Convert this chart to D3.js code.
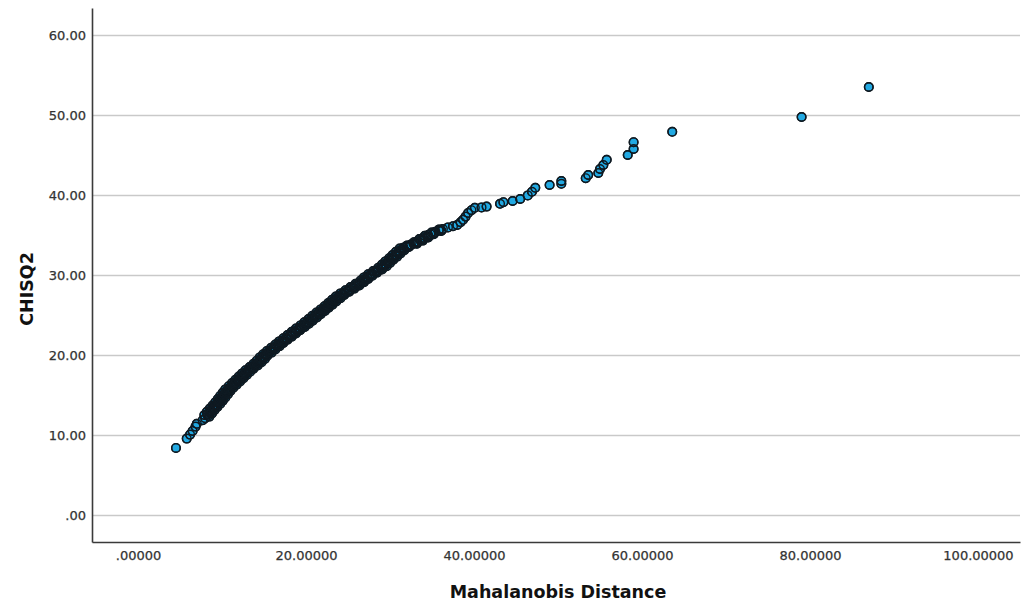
<!DOCTYPE html>
<html>
<head>
<meta charset="utf-8">
<script src="https://cdn.jsdelivr.net/npm/d3@7"></script>
<style>
    body { margin: 0; background: #fff; }
    #chart { width: 1023px; height: 610px; }
    .tick text { font-family: "DejaVu Sans", sans-serif; font-size: 13px; fill: #333; stroke: #333; stroke-width: 0.25px; }
    .axisTitle { font-family: "DejaVu Sans", sans-serif; font-weight: bold; fill: #111; }
</style>
</head>
<body>
<div id="chart"></div>
<script>

// ticks + labels as SPSS prints them
let yTicks = [0, 10, 20, 30, 40, 50, 60];
let yTickLabels = [".00", "10.00", "20.00", "30.00", "40.00", "50.00", "60.00"];
let xTicks = [0, 20, 40, 60, 80, 100];
let xTickLabels = [".00000", "20.00000", "40.00000", "60.00000", "80.00000", "100.00000"];

// points (Mahalanobis distance vs chi-square quantile)
let mahalanobis = [
    4.52, 5.8, 6.2, 6.5, 6.85, 7.0, 7.7, 8.0, 8.3, 8.5,
    8.7, 8.9, 9.1, 9.3, 9.5, 9.7, 9.85, 10.0, 10.15, 10.3,
    10.45, 10.6, 10.75, 10.9, 11.05, 11.2, 11.35, 11.5, 11.65, 11.8,
    11.95, 12.1, 12.25, 12.4, 12.55, 12.7, 12.85, 13.0, 13.15, 13.3,
    13.5, 13.7, 13.9, 14.1, 14.3, 14.45, 14.6, 14.75, 14.9, 15.1,
    15.3, 15.5, 15.7, 15.9, 16.1, 16.3, 16.5, 16.7, 16.9, 17.15,
    17.4, 17.65, 17.9, 18.15, 18.4, 18.65, 18.9, 19.1, 19.3, 19.55,
    19.8, 20.05, 20.3, 20.5, 20.75, 21.0, 21.25, 21.5, 21.7, 21.95,
    22.2, 22.4, 22.65, 22.85, 23.1, 23.3, 23.55, 23.8, 24.0, 24.3,
    24.6, 24.9, 25.2, 25.5, 25.8, 26.1, 26.4, 26.7, 27.0, 27.3,
    27.6, 27.9, 28.2, 28.5, 28.9, 29.2, 29.45, 29.7, 29.95, 30.2,
    30.4, 30.65, 30.9, 31.15, 31.4, 31.6, 32.0, 32.4, 32.8, 33.2,
    33.6, 34.0, 34.4, 34.8, 35.3, 35.8, 36.3, 36.9, 37.5, 38.0,
    38.4, 38.7, 39.0, 39.3, 39.7, 40.1, 40.9, 41.5, 43.1, 43.5,
    44.6, 45.5, 46.4, 46.9, 47.3, 49.0, 50.4, 50.4, 53.3, 53.6,
    54.8, 55.0, 55.4, 55.8, 58.3, 59.0, 59.0, 63.6, 79.0, 87.0,
    // the thick dark band, second row of cases either side of the first
    8.5, 7.9, 8.8, 8.2, 9.1, 8.55, 9.45, 8.9, 9.8, 9.2,
    10.1, 9.5, 10.4, 9.8, 10.7, 10.1, 11.0, 10.4, 11.35, 10.8,
    11.75, 11.2, 12.15, 11.6, 12.55, 12.0, 12.95, 12.4, 13.35, 12.8,
    13.75, 13.3, 14.25, 13.75, 14.7, 14.15, 15.1, 14.5, 15.4, 14.9,
    15.9, 15.35, 16.35, 15.85, 16.85, 16.35, 17.3, 16.8, 17.8, 17.3,
    18.3, 17.8, 18.8, 18.3, 19.3, 18.8, 19.85, 19.35, 20.35, 19.8,
    20.8, 20.3, 21.3, 20.75, 21.75, 21.25, 22.25, 21.75, 22.7, 22.2,
    23.15, 22.65, 23.6, 23.1, 24.1, 23.55, 24.55, 24.1, 25.15, 24.7,
    25.75, 25.3, 26.35, 25.9, 26.9, 26.5, 27.4, 26.9, 27.9, 27.4,
    28.45, 28.0, 29.05, 28.6, 29.6, 29.05, 30.0, 29.45, 30.4, 29.9,
    30.85, 30.3, 31.25, 30.7, 31.7, 31.15, 32.25, 32.05, 33.2, 32.85,
    33.9, 33.5, 34.55, 34.15, 35.2, 34.95, 36.1, 35.85,
    // third row, down the middle of the band
    8.33, 8.22, 8.63, 8.53, 8.95, 8.88, 9.3, 9.23, 9.63, 9.53,
    9.93, 9.83, 10.23, 10.13, 10.53, 10.43, 10.83, 10.75, 11.2, 11.15,
    11.6, 11.55, 12.0, 11.95, 12.4, 12.35, 12.8, 12.75, 13.2, 13.15,
    13.65, 13.65, 14.13, 14.1, 14.55, 14.5, 14.93, 14.83, 15.28, 15.28,
    15.75, 15.73, 16.23, 16.23, 16.73, 16.7, 17.18, 17.18, 17.68, 17.68,
    18.18, 18.18, 18.68, 18.68, 19.18, 19.2, 19.73, 19.73, 20.2, 20.18,
    20.68, 20.68, 21.15, 21.13, 21.63, 21.63, 22.13, 22.1, 22.58, 22.55,
    23.03, 23.0, 23.48, 23.48, 23.95, 23.93, 24.45, 24.5, 25.05, 25.1,
    25.65, 25.7, 26.25, 26.28, 26.83, 26.83, 27.28, 27.28, 27.78, 27.8,
    28.35, 28.4, 28.95, 28.98, 29.45, 29.4, 29.85, 29.8, 30.28, 30.25,
    30.7, 30.65, 31.1, 31.08, 31.55, 31.58, 32.28, 32.5, 33.15, 33.25,
    33.83, 33.9, 34.48, 34.55, 35.2, 35.4, 36.1
];
let chisq2 = [
    8.38, 9.55, 10.05, 10.5, 11.05, 11.4, 11.85, 12.1, 12.6, 12.85,
    13.1, 13.35, 13.55, 13.8, 14.05, 14.3, 14.5, 14.7, 14.9, 15.1,
    15.3, 15.5, 15.7, 15.85, 16.0, 16.15, 16.3, 16.45, 16.6, 16.75,
    16.9, 17.05, 17.2, 17.35, 17.5, 17.65, 17.8, 17.95, 18.1, 18.25,
    18.4, 18.55, 18.75, 18.9, 19.1, 19.25, 19.4, 19.6, 19.8, 20.0,
    20.15, 20.3, 20.5, 20.65, 20.8, 21.0, 21.15, 21.3, 21.5, 21.7,
    21.9, 22.1, 22.3, 22.5, 22.7, 22.9, 23.1, 23.25, 23.4, 23.6,
    23.8, 24.0, 24.2, 24.4, 24.6, 24.8, 25.0, 25.2, 25.4, 25.6,
    25.8, 26.0, 26.2, 26.4, 26.6, 26.8, 27.0, 27.2, 27.4, 27.6,
    27.8, 28.0, 28.2, 28.4, 28.6, 28.8, 29.0, 29.25, 29.5, 29.75,
    30.0, 30.2, 30.4, 30.6, 30.85, 31.1, 31.35, 31.6, 31.85, 32.05,
    32.25, 32.5, 32.75, 33.0, 33.2, 33.4, 33.55, 33.7, 33.9, 34.1,
    34.35, 34.6, 34.85, 35.1, 35.3, 35.55, 35.75, 35.95, 36.1, 36.25,
    36.6, 36.9, 37.3, 37.75, 38.1, 38.4, 38.45, 38.55, 38.9, 39.1,
    39.25, 39.5, 39.95, 40.4, 40.9, 41.25, 41.75, 41.4, 42.1, 42.5,
    42.75, 43.25, 43.75, 44.4, 45.0, 45.75, 46.6, 47.9, 49.75, 53.5,
    // the thick dark band
    12.3, 12.5, 12.7, 12.9, 13.1, 13.3, 13.5, 13.7, 13.9, 14.1,
    14.3, 14.5, 14.7, 14.9, 15.1, 15.3, 15.5, 15.7, 15.9, 16.1,
    16.3, 16.5, 16.7, 16.9, 17.1, 17.3, 17.5, 17.7, 17.9, 18.1,
    18.3, 18.5, 18.7, 18.9, 19.1, 19.3, 19.5, 19.7, 19.9, 20.1,
    20.3, 20.5, 20.7, 20.9, 21.1, 21.3, 21.5, 21.7, 21.9, 22.1,
    22.3, 22.5, 22.7, 22.9, 23.1, 23.3, 23.5, 23.7, 23.9, 24.1,
    24.3, 24.5, 24.7, 24.9, 25.1, 25.3, 25.5, 25.7, 25.9, 26.1,
    26.3, 26.5, 26.7, 26.9, 27.1, 27.3, 27.5, 27.7, 27.9, 28.1,
    28.3, 28.5, 28.7, 28.9, 29.1, 29.3, 29.5, 29.7, 29.9, 30.1,
    30.3, 30.5, 30.7, 30.9, 31.1, 31.3, 31.5, 31.7, 31.9, 32.1,
    32.3, 32.5, 32.7, 32.9, 33.1, 33.3, 33.5, 33.7, 33.9, 34.1,
    34.3, 34.5, 34.7, 34.9, 35.1, 35.3, 35.5, 35.7,
    // third row
    12.4, 12.6, 12.8, 13.0, 13.2, 13.4, 13.6, 13.8, 14.0, 14.2,
    14.4, 14.6, 14.8, 15.0, 15.2, 15.4, 15.6, 15.8, 16.0, 16.2,
    16.4, 16.6, 16.8, 17.0, 17.2, 17.4, 17.6, 17.8, 18.0, 18.2,
    18.4, 18.6, 18.8, 19.0, 19.2, 19.4, 19.6, 19.8, 20.0, 20.2,
    20.4, 20.6, 20.8, 21.0, 21.2, 21.4, 21.6, 21.8, 22.0, 22.2,
    22.4, 22.6, 22.8, 23.0, 23.2, 23.4, 23.6, 23.8, 24.0, 24.2,
    24.4, 24.6, 24.8, 25.0, 25.2, 25.4, 25.6, 25.8, 26.0, 26.2,
    26.4, 26.6, 26.8, 27.0, 27.2, 27.4, 27.6, 27.8, 28.0, 28.2,
    28.4, 28.6, 28.8, 29.0, 29.2, 29.4, 29.6, 29.8, 30.0, 30.2,
    30.4, 30.6, 30.8, 31.0, 31.2, 31.4, 31.6, 31.8, 32.0, 32.2,
    32.4, 32.6, 32.8, 33.0, 33.2, 33.4, 33.6, 33.8, 34.0, 34.2,
    34.4, 34.6, 34.8, 35.0, 35.2, 35.4, 35.6
];


class ScatterPlot {

    constructor(parentElement) {
        this.parentElement = parentElement;
        this.initVis();
    }

    initVis() {
        let vis = this;

        vis.margin = {top: 8, right: 3, bottom: 68, left: 92};
        vis.width = 1023 - vis.margin.left - vis.margin.right;
        vis.height = 610 - vis.margin.top - vis.margin.bottom;

        vis.svg = d3.select("#" + vis.parentElement).append("svg")
            .attr("width", 1023)
            .attr("height", 610)
            .append("g")
            .attr("transform", `translate(${vis.margin.left}, ${vis.margin.top})`);

        vis.x = d3.scaleLinear()
            .domain([-5.476, 105])
            .range([0, vis.width]);

        vis.y = d3.scaleLinear()
            .domain([-3.375, 63.375])
            .range([vis.height, 0]);

        vis.wrangleData();
    }

    wrangleData() {
        let vis = this;
        // draw in case order (sorted on the quantile), like SPSS does
        vis.points = mahalanobis.map((d, i) => ({x: d, y: chisq2[i]}))
            .sort((a, b) => a.y - b.y);
        vis.updateVis();
    }

    updateVis() {
        let vis = this;

        // horizontal grid
        vis.svg.append("g")
            .attr("class", "grid")
            .call(d3.axisLeft(vis.y).tickValues(yTicks).tickSize(-vis.width).tickFormat(""))
            .call(g => g.select(".domain").remove())
            .call(g => g.selectAll("line").attr("stroke", "#c9c9c9").attr("stroke-width", 1.6));

        // y axis
        vis.svg.append("g")
            .attr("class", "axis")
            .call(d3.axisLeft(vis.y)
                .tickValues(yTicks)
                .tickSize(0)
                .tickSizeOuter(0)
                .tickPadding(6)
                .tickFormat((d, i) => yTickLabels[i]))
            .call(g => g.select(".domain").attr("stroke", "#3a3a3a").attr("stroke-width", 1.6));

        // x axis
        vis.svg.append("g")
            .attr("class", "axis")
            .attr("transform", `translate(0, ${vis.height})`)
            .call(d3.axisBottom(vis.x)
                .tickValues(xTicks)
                .tickSize(0)
                .tickSizeOuter(0)
                .tickPadding(9)
                .tickFormat((d, i) => xTickLabels[i]))
            .call(g => g.select(".domain").attr("stroke", "#3a3a3a").attr("stroke-width", 1.6));

        // dots: fills first, then all outlines on top so the crowded part reads dark
        vis.svg.append("g")
            .selectAll("circle")
            .data(vis.points)
            .enter()
            .append("circle")
            .attr("cx", d => vis.x(d.x))
            .attr("cy", d => vis.y(d.y))
            .attr("r", 4.3)
            .attr("fill", "#22a9e2")
            .attr("stroke", "#0f1a22")
            .attr("stroke-width", 1.4);

        vis.svg.append("g")
            .selectAll("circle")
            .data(vis.points)
            .enter()
            .append("circle")
            .attr("cx", d => vis.x(d.x))
            .attr("cy", d => vis.y(d.y))
            .attr("r", 4.3)
            .attr("fill", "none")
            .attr("stroke", "#0f1a22")
            .attr("stroke-width", 1.4);

        // axis titles
        vis.svg.append("text")
            .attr("class", "axisTitle")
            .attr("x", 466)
            .attr("y", 590)
            .attr("text-anchor", "middle")
            .style("font-size", "17.5px")
            .text("Mahalanobis Distance");

        vis.svg.append("text")
            .attr("class", "axisTitle")
            .attr("transform", `translate(-59, 281) rotate(-90)`)
            .attr("text-anchor", "middle")
            .style("font-size", "17.5px")
            .text("CHISQ2");
    }
}

let scatter = new ScatterPlot("chart");

</script>
</body>
</html>
